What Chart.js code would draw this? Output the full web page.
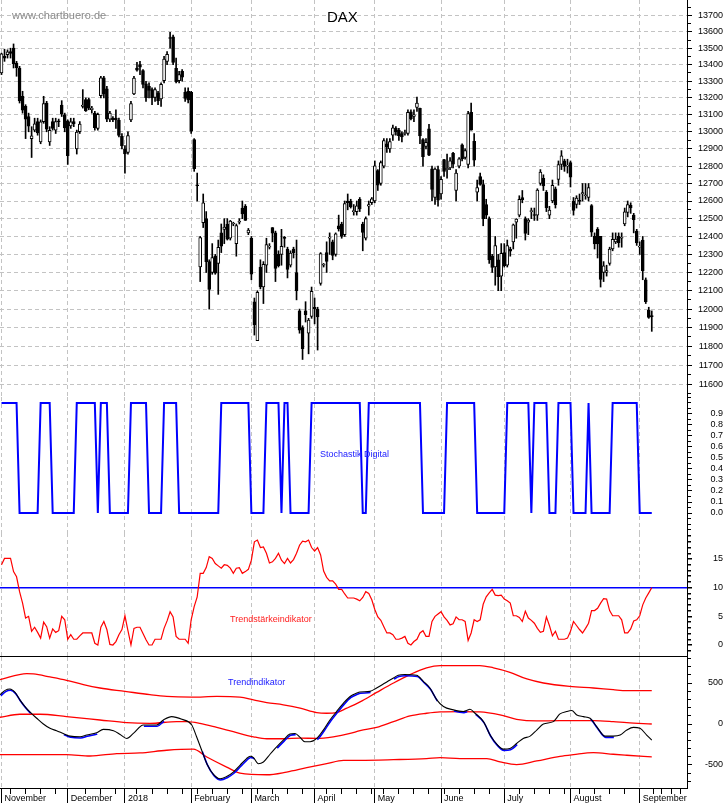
<!DOCTYPE html>
<html>
<head>
<meta charset="utf-8">
<title>DAX</title>
<script src="https://cdn.jsdelivr.net/npm/chart.js"></script>
<style>
    body { margin: 0; background: #fff; }
    #page { position: relative; width: 723px; height: 803px; overflow: hidden; font-family: "Liberation Sans", Arial, sans-serif; }
    #page canvas { position: absolute; left: 0; }
    .note { position: absolute; white-space: nowrap; line-height: 1; }
</style>
</head>
<body>
<div id="page">
    <canvas id="priceChart" width="723" height="397" style="top:0"></canvas>
    <canvas id="stochChart" width="723" height="136" style="top:397px"></canvas>
    <canvas id="strengthChart" width="723" height="124" style="top:533px"></canvas>
    <canvas id="trendChart" width="723" height="146" style="top:657px"></canvas>
    <div class="note" style="left:12px;top:10px;font-size:11px;color:#8a8a8a">www.chartbuero.de</div>
    <div class="note" style="left:327px;top:9px;font-size:15px;color:#000">DAX</div>
    <div class="note" style="left:320px;top:450px;font-size:9px;color:#2020ff">Stochastik Digital</div>
    <div class="note" style="left:230px;top:615px;font-size:9px;color:#ff2020">Trendstärkeindikator</div>
    <div class="note" style="left:228px;top:678px;font-size:9px;color:#2020ff">Trendindikator</div>
</div>
<script>
// DAX daily candles, 1 Nov 2017 - 7 Sep 2018, with three indicator panels

// Price data, one entry per trading day
const priceOpen = [
    13350,13450,13460,13480,13500,13410,13380,13210,13150,13090,
    12960,13010,13060,12940,13060,13170,12940,13060,13010,13060,
    13158,13100,13064,13034,13060,12900,13000,13150,13190,13190,
    13130,13110,13020,13214,13320,13254,13074,13080,13080,13068,
    12974,12900,12880,13070,13224,13380,13400,13364,13284,13270,
    13250,13204,13230,13194,13304,13420,13560,13570,13378,13304,
    13360,13234,13240,13234,12954,12690,12231,12478,12500,12260,
    12200,12290,12250,12420,12440,12470,12390,12470,12360,12480,
    12560,12570,12420,12390,12040,11830,12230,12120,12240,12340,
    12450,12420,12300,12300,12390,12330,12240,12330,12200,11990,
    11900,11990,11870,11960,12010,12000,12140,12240,12310,12390,
    12370,12300,12460,12470,12410,12600,12600,12540,12540,12610,
    12470,12390,12570,12590,12600,12774,12700,12800,12930,12900,
    12980,13020,13010,12990,12990,12990,13118,13090,13144,13138,
    12954,12914,13018,12784,12620,12780,12640,12838,12780,12790,
    12874,12660,12800,12924,12850,12810,13114,12944,12650,12740,
    12694,12580,12500,12290,12230,12270,12180,12310,12240,12330,
    12370,12480,12520,12620,12500,12480,12540,12520,12520,12700,
    12730,12650,12520,12600,12670,12724,12810,12830,12800,12820,
    12600,12580,12600,12640,12630,12620,12574,12400,12440,12400,
    12200,12200,12250,12330,12370,12400,12390,12470,12535,12575,
    12520,12430,12340,12380,12160,11995,11960
];
const priceHigh = [
    13470,13494,13490,13500,13526,13420,13390,13240,13160,13110,
    13030,13080,13080,13070,13210,13180,13030,13080,13080,13075,
    13184,13110,13070,13080,13080,13010,13060,13250,13200,13200,
    13150,13120,13110,13330,13330,13270,13120,13090,13130,13080,
    12990,12920,13000,13180,13330,13414,13420,13370,13300,13290,
    13260,13260,13240,13290,13450,13480,13597,13580,13440,13360,
    13370,13260,13260,13240,12960,12760,12400,12640,12540,12270,
    12360,12300,12380,12470,12500,12500,12490,12480,12470,12500,
    12600,12580,12445,12400,12060,12100,12270,12260,12390,12360,
    12450,12430,12320,12440,12400,12340,12320,12340,12380,12000,
    11910,12040,11950,12120,12060,12010,12310,12250,12370,12420,
    12380,12420,12520,12480,12600,12640,12610,12580,12600,12620,
    12480,12510,12600,12620,12830,12780,12830,12960,12960,12960,
    13040,13030,13020,13000,13010,13130,13130,13130,13205,13140,
    12960,12960,13044,12800,12790,12800,12740,12840,12870,12850,
    12880,12780,12850,12930,12900,13120,13170,12990,12720,12760,
    12720,12610,12510,12300,12400,12300,12360,12360,12380,12340,
    12470,12500,12630,12660,12510,12500,12560,12560,12670,12780,
    12750,12660,12570,12720,12680,12830,12890,12840,12840,12830,
    12620,12630,12640,12700,12700,12700,12580,12420,12450,12400,
    12260,12240,12340,12420,12420,12420,12420,12560,12600,12590,
    12530,12440,12370,12400,12170,12010,11990
];
const priceLow = [
    13340,13420,13440,13440,13380,13330,13170,13110,12960,13000,
    12850,13000,12980,12930,13050,13000,12920,13010,12990,13030,
    13090,13000,12810,13020,13030,12870,12990,13140,13120,13130,
    13110,13010,13010,13200,13200,13060,13060,13060,13020,12970,
    12900,12760,12870,13060,13220,13360,13340,13260,13180,13200,
    13160,13180,13160,13150,13290,13400,13500,13400,13290,13290,
    13300,13180,13170,12990,12770,12600,12150,12450,12200,12000,
    12190,12190,12080,12310,12360,12380,12380,12460,12290,12470,
    12500,12490,12410,12160,11860,11830,12110,12030,12200,12330,
    12370,12150,12230,12240,12340,12170,12230,12280,12050,11870,
    11730,11930,11760,11950,11920,11780,12130,12230,12200,12300,
    12270,12290,12430,12390,12400,12550,12560,12520,12520,12540,
    12320,12380,12520,12580,12590,12660,12690,12790,12880,12880,
    12950,12980,12950,12940,12980,12980,13070,13060,13120,12930,
    12800,12900,12860,12600,12580,12570,12610,12740,12730,12780,
    12790,12600,12790,12830,12840,12790,13010,12800,12600,12690,
    12460,12500,12250,12200,12130,12100,12100,12230,12230,12290,
    12330,12390,12510,12590,12380,12410,12500,12490,12490,12690,
    12660,12540,12500,12590,12560,12690,12780,12770,12760,12680,
    12520,12560,12580,12600,12610,12600,12400,12330,12280,12120,
    12150,12180,12240,12320,12360,12340,12340,12460,12510,12530,
    12420,12350,12300,12160,12030,11950,11880
];
const priceClose = [
    13465,13440,13478,13468,13406,13382,13182,13127,13074,13033,
    12976,13047,12993,13058,13167,13015,13008,13020,13060,13059,
    13104,13023,12861,13058,13048,12999,13045,13158,13123,13140,
    13140,13024,13103,13320,13224,13074,13110,13072,13070,12978,
    12918,12871,12978,13167,13319,13367,13385,13281,13202,13245,
    13200,13250,13183,13281,13434,13463,13559,13414,13298,13340,
    13324,13197,13189,13003,12785,12687,12393,12590,12260,12107,
    12282,12196,12339,12346,12452,12385,12487,12470,12461,12483,
    12527,12490,12436,12190,11914,12091,12120,12245,12355,12346,
    12418,12222,12238,12345,12389,12217,12307,12309,12100,11886,
    11787,11970,11940,12096,12002,11957,12305,12241,12261,12397,
    12294,12415,12442,12400,12586,12590,12567,12540,12572,12555,
    12422,12500,12580,12612,12802,12690,12820,12948,12912,12943,
    13023,13001,12977,12970,12996,13114,13077,13100,13169,12976,
    12855,12938,12863,12666,12783,12605,12724,12770,12787,12830,
    12811,12760,12842,12842,12890,13107,13010,12834,12677,12695,
    12500,12520,12270,12228,12349,12177,12306,12238,12349,12318,
    12465,12497,12609,12607,12417,12492,12541,12518,12662,12766,
    12686,12562,12549,12690,12579,12809,12860,12799,12806,12737,
    12546,12616,12598,12648,12634,12677,12424,12358,12358,12162,
    12237,12210,12330,12384,12385,12365,12394,12538,12580,12561,
    12494,12364,12346,12210,12040,11955,11959
];

// Stochastik Digital, one value per trading day
const stochDigital = [
    1,1,1,1,1,1,0,0,0,0, 0,0,0,1,1,1,1,0,0,0, 0,0,0,0,0,1,1,1,1,1,
    1,1,0,1,1,1,0,0,0,0, 0,0,0,1,1,1,1,1,1,0, 0,0,0,0,1,1,1,1,1,0,
    0,0,0,0,0,0,0,0,0,0, 0,0,0,1,1,1,1,1,1,1, 1,1,1,0,0,0,0,0,1,1,
    1,1,1,0,1,1,0,0,0,0, 0,0,0,1,1,1,1,1,1,1, 1,1,1,1,1,1,1,1,1,1,
    0,0,1,1,1,1,1,1,1,1, 1,1,1,1,1,1,1,1,1,1, 0,0,0,0,0,0,0,0,1,1,
    1,1,1,1,1,1,1,1,0,0, 0,0,0,0,0,0,0,0,1,1, 1,1,1,1,1,1,0,1,1,1,
    1,1,0,0,0,1,1,1,1,1, 0,0,0,0,0,1,0,0,0,0, 0,0,0,1,1,1,1,1,1,1,
    1,1,0,0,0,0,0
];

// Trendstaerkeindikator, one value per trading day
const trendStrength = [
    14,15.1,15.1,15.1,12.8,11.9,9.3,7.3,4.7,5.0,
    2.4,3.1,2.2,1.2,4.0,3.2,1.2,2.8,2.2,2.5,
    5.0,4.4,1.0,1.8,1.0,1.0,1.6,2.1,2.1,2.1,
    2.1,0.3,0,3.1,4.1,2.7,0.1,0,0.6,1.8,
    2.7,5.1,2.5,0,2.9,3.1,3.1,2.0,0.9,0,
    0,1.0,1.0,1.0,2.9,4.2,5.8,4.9,1.5,1.0,
    1.0,1.0,0.3,4.4,6.7,8.4,12.5,12.5,13.5,15.4,
    15.1,14.2,13.8,13.4,14.0,13.9,13.4,12.5,13.4,13.5,
    12.5,12.8,13.2,14.8,18.0,18.3,17.0,17.1,16.0,14.3,
    14.5,15.1,16.0,14.8,14.2,15.1,14.3,14.9,16.0,17.4,
    18.1,18.0,18.3,17.0,16.4,17.0,15.7,12.9,11.8,11.2,
    11.2,10.6,9.7,9.7,8.9,8.2,8.2,8.2,8.0,7.7,
    8.3,9.3,9.0,7.9,6.2,4.9,4.3,3.2,2.1,2.1,
    1.8,1.0,1.0,1.2,1.5,0.3,0,0.6,1.0,2.1,
    2.5,1.5,1.5,4.1,5.0,5.4,5.8,4.9,4.3,3.5,
    3.7,4.9,4.4,4.4,4.1,0.8,2.1,4.4,4.1,4.4,
    7.1,8.4,9.1,9.7,8.7,8.6,8.7,8.0,7.7,7.3,
    5.1,5.1,4.8,4.1,5.9,4.7,4.3,3.8,2.9,2.2,
    2.4,4.9,3.4,1.6,2.4,1.0,1.0,1.0,1.2,2.4,
    4.1,3.4,2.7,2.1,2.9,3.8,6.0,6.0,6.4,7.3,
    8.1,8.0,6.0,5.1,5.1,5.1,4.4,2.1,2.1,2.8,
    4.2,4.4,5.1,7.0,8.2,9.1,10.0
];
const strengthLevel = 10;

// Trendindikator: points where the lines bend, x in trading days from the left edge
const trendX = [0,1.7,3.3,5,6.6,8.3,10,12.2,14.4,16.6,18.8,21,23.3,26.6,28.8,32.1,34.3,37.7,39.9,42.1,
    44.3,47.6,52,54.3,57,60.4,63.7,65.3,67,68.7,70.9,73.1,75.3,77.5,79.7,81.9,83.1,84.2,85.8,87.5,
    89.7,91.9,94.1,96.3,98,99.7,101.3,103,105.2,107.4,109.6,111.8,114.1,116.3,118.5,119.6,122.9,125.1,127.9,130.7,
    132.3,134.5,138.4,140.6,142.8,145.1,147.3,150.6,153.9,155,156.1,157.8,160.6,162.8,165,167.2,169.4,171.6,173.8,176.1,
    178.3,180.5,183.8,186,188.2,189.9,191.6,193.8,196,198.2,201,203.7,206,208.2,210.4,212.6,214.8,216.5];
const trendLine = [357,410,426,385,295,213,144,70,0,-53,-82,-115,-148,-156,-135,-107,-66,-82,-127,-176,
    -115,-12,-12,49,90,57,-12,-156,-320,-484,-615,-668,-640,-586,-504,-422,-394,-410,-484,-463,
    -369,-279,-197,-123,-115,-164,-217,-217,-176,-74,49,152,254,336,377,390,398,439,500,562,
    594,603,594,521,439,295,213,172,152,165,180,131,29,-135,-246,-307,-299,-238,-176,-148,
    -74,0,29,123,152,164,111,90,70,-33,-148,-148,-135,-74,-41,-53,-135,-197];
const blueStretches = [[0, 11.1], [21, 32.1], [47.6, 54.3], [57, 58.7], [66.4, 84.2], [90.8, 98.6],
    [104, 124], [130.7, 145.1], [150.6, 155], [157.2, 171.6], [196, 203.7]];

const upperX = [0,8.9,11.1,16.6,22.1,27.7,33.2,41.5,49.8,55.4,63.7,72,79.7,84.2,88.6,94.1,99.7,105.2,108.5,111.8,
    115.2,119.6,125.1,130.7,136.2,141.7,146.2,152.8,159.4,163.9,169.4,175,180.5,189.3,197.1,203.7,208.2,216.5];
const upperBand = [541,615,611,574,533,480,439,398,357,336,328,336,328,295,262,234,193,139,131,139,
    193,270,385,500,603,685,713,713,713,685,631,549,500,459,439,418,406,406];
const middleX = [0,6.6,13.3,22.1,33.2,42.1,49.8,58.7,62,66.4,72,77.5,84.2,88.6,94.1,99.7,105.2,110.7,116.3,119.6,
    125.1,130.7,136.2,141.7,146.2,152.8,159.4,166.1,171.6,178.3,186,197.1,203.7,208.2,216.5];
const middleBand = [82,119,119,90,49,16,8,29,29,8,-41,-94,-156,-180,-180,-172,-176,-156,-115,-80,
    -41,29,98,131,148,152,148,111,57,37,41,41,29,16,0];
const lowerX = [0,22.1,29.9,38.8,46.5,55.4,64.2,68.7,75.3,79.7,88.6,95.2,101.9,108.5,114.1,119.6,130.7,141.7,146.2,152.8,
    161.7,166.1,171.6,178.3,186,190.5,197.1,203.7,208.2,216.5];
const lowerBand = [-373,-373,-390,-361,-353,-320,-307,-402,-525,-599,-619,-586,-533,-484,-443,-443,-435,-422,-410,-422,
    -422,-463,-496,-451,-394,-373,-349,-369,-381,-402];

// Time axis: first trading day of each month, Mondays, and tick marks after the last candle
const monthStarts = [0, 22, 41, 63, 83, 104, 124, 146, 167, 189, 212];
const monthNames = ['November', 'December', '2018', 'February', 'March', 'April', 'May', 'June', 'July', 'August', 'September'];
const weekStarts = [3,8,13,18,28,33,38,45,50,55,60,65,70,75,80,85,90,95,100,108,113,118,123,127,132,137,142,147,152,157,162,172,177,182,187,192,197,202,207];
const futureTicks = [217, 219.8, 223.1, 225.9];

// Value axis labels
const stochLabels = ['0.0','0.1','0.2','0.3','0.4','0.5','0.6','0.7','0.8','0.9'];
const strengthLabels = ['0', '5', '10', '15'];
const trendLabels = ['-500', '0', '500'];

// ---------------------------------------------------------------------------
const DAY_PX = 3.0105;
const PLOT_RIGHT = 687;
const AXIS_WIDTH = 723 - PLOT_RIGHT;
const X_MAX = PLOT_RIGHT / DAY_PX;
const GRID = '#c3c3c3';
const DASH = [4, 3];
const SHORT_TICK = [3, 20];   // minor tick marks: only the first pixels of the tick are drawn

Chart.defaults.font.family = '"Liberation Sans", Arial, sans-serif';
Chart.defaults.font.size = 9;
Chart.defaults.color = '#000';
Chart.defaults.animation = false;
Chart.defaults.responsive = false;
Chart.defaults.plugins.legend.display = false;
Chart.defaults.plugins.tooltip.enabled = false;
Chart.defaults.elements.point.radius = 0;

const monthTicks = monthStarts.map(d => d + 0.5);
const monthByTick = new Map(monthTicks.map((v, k) => [v, monthNames[k]]));

function daily(values) {
    return values.map((v, i) => ({ x: i + 0.5, y: v }));
}

function zip(xs, ys) {
    return xs.map((x, k) => ({ x: x, y: ys[k] }));
}

function range(from, to, step) {
    const out = [];
    for (let v = from; v <= to; v += step) out.push(v);
    return out;
}

function fixYAxis(scale) {
    scale.width = AXIS_WIDTH;
    scale.paddingTop = 0;
    scale.paddingBottom = 0;
}

function isMonth(ctx) {
    return !!ctx.tick && monthByTick.has(ctx.tick.value);
}

function timeAxis(height, withLabels, borderShown) {
    let values = monthTicks;
    if (withLabels) {
        values = monthTicks.concat(weekStarts.map(d => d + 0.5), futureTicks).sort((a, b) => a - b);
    }
    return {
        type: 'linear',
        position: 'bottom',
        min: 0,
        max: X_MAX,
        offset: false,
        afterBuildTicks: scale => { scale.ticks = values.map(v => ({ value: v })); },
        afterFit: scale => { scale.height = height; scale.paddingLeft = 0; scale.paddingRight = 0; },
        grid: {
            offset: false,
            color: ctx => isMonth(ctx) ? GRID : 'transparent',
            drawTicks: withLabels,
            tickLength: 15,
            tickColor: '#000',
            tickBorderDash: ctx => isMonth(ctx) ? [] : [5, 20]
        },
        border: { display: borderShown, color: '#000', dash: DASH },
        ticks: {
            display: withLabels,
            autoSkip: false,
            minRotation: 0,
            maxRotation: 0,
            align: 'start',
            labelOffset: 3,
            padding: -10,
            callback: v => monthByTick.get(v) || ''
        }
    };
}

function valueAxis(cfg) {
    return {
        type: cfg.type || 'linear',
        position: 'right',
        min: cfg.min,
        max: cfg.max,
        afterBuildTicks: scale => { scale.ticks = cfg.ticks.map(v => ({ value: v })); },
        afterFit: fixYAxis,
        grid: {
            color: cfg.gridColor,
            lineWidth: cfg.gridWidth || 1,
            tickColor: '#000',
            tickLength: 5,
            tickBorderDash: ctx => (ctx.tick && cfg.major(ctx.tick.value)) ? [] : SHORT_TICK
        },
        border: { color: '#000', dash: cfg.dash || [] },
        ticks: { autoSkip: false, crossAlign: 'far', padding: cfg.padding, callback: cfg.label }
    };
}

// Price panel (candles)
const bodyData = priceOpen.map((o, i) => ({ x: i + 0.5, y: [o, priceClose[i]] }));
const wickData = priceLow.map((l, i) => ({ x: i + 0.5, y: [l, priceHigh[i]] }));
const bodyFill = priceClose.map((c, i) => c >= priceOpen[i] ? '#ffffff' : '#000000');

new Chart(document.getElementById('priceChart'), {
    type: 'bar',
    data: {
        datasets: [{
            data: bodyData,
            backgroundColor: bodyFill,
            borderColor: '#000',
            borderWidth: 1,
            borderSkipped: false,
            barThickness: 3,
            minBarLength: 1,
            grouped: false
        }, {
            data: wickData,
            backgroundColor: '#000',
            borderWidth: 0,
            barThickness: 1,
            grouped: false
        }]
    },
    options: {
        devicePixelRatio: 1,
        scales: {
            x: timeAxis(0, false, false),
            y: valueAxis({
                type: 'logarithmic',
                min: 11533,
                max: 13797,
                ticks: range(11550, 13750, 50),
                major: v => v % 100 === 0,
                gridColor: ctx => (ctx.tick && ctx.tick.value % 100 === 0) ? GRID : 'transparent',
                dash: DASH,
                padding: 4,
                label: v => v % 100 === 0 ? String(v) : ''
            })
        }
    }
});

// Stochastik Digital
function stochLabel(v) {
    const s = v.toFixed(2);
    return (s.endsWith('0') && stochLabels.includes(s.slice(0, 3))) ? s.slice(0, 3) : '';
}

new Chart(document.getElementById('stochChart'), {
    type: 'line',
    data: {
        datasets: [{ data: daily(stochDigital), borderColor: '#0000ff', borderWidth: 2, tension: 0 }]
    },
    options: {
        devicePixelRatio: 1,
        scales: {
            x: timeAxis(0, false, false),
            y: valueAxis({
                min: -0.1818,
                max: 1.0545,
                ticks: range(-3, 21, 1).map(k => k / 20),
                major: v => stochLabel(v) !== '',
                gridColor: 'transparent',
                padding: 16,
                label: stochLabel
            })
        }
    }
});

// Trendstaerkeindikator
new Chart(document.getElementById('strengthChart'), {
    type: 'line',
    data: {
        datasets: [{ data: daily(trendStrength), borderColor: '#ff0000', borderWidth: 1.2, tension: 0 }]
    },
    options: {
        devicePixelRatio: 1,
        scales: {
            x: timeAxis(1, false, true),
            y: valueAxis({
                min: -1.919,
                max: 19.535,
                ticks: range(-1, 19, 1),
                major: v => strengthLabels.includes(String(v)),
                gridColor: ctx => (ctx.tick && ctx.tick.value === strengthLevel) ? '#0000ff' : 'transparent',
                gridWidth: 1.5,
                padding: 19,
                label: v => strengthLabels.includes(String(v)) ? String(v) : ''
            })
        }
    }
});

// Trendindikator: the blue companion line sits one pixel below the black one
function inBlue(x0, x1) {
    return blueStretches.some(s => x0 >= s[0] - 0.01 && x1 <= s[1] + 0.01);
}

const blueOffset = {
    id: 'blueOffset',
    beforeDatasetDraw(chart, args) {
        if (args.index === 1) {
            chart.ctx.save();
            chart.ctx.translate(0.6, 1.2);
        }
    },
    afterDatasetDraw(chart, args) {
        if (args.index === 1) chart.ctx.restore();
    }
};

new Chart(document.getElementById('trendChart'), {
    type: 'line',
    data: {
        datasets: [{
            data: zip(trendX, trendLine),
            borderColor: '#000',
            borderWidth: 1.1,
            cubicInterpolationMode: 'monotone'
        }, {
            data: zip(trendX, trendLine),
            borderColor: '#0000ff',
            borderWidth: 1.6,
            cubicInterpolationMode: 'monotone',
            segment: { borderColor: ctx => inBlue(ctx.p0.parsed.x, ctx.p1.parsed.x) ? '#0000ff' : 'transparent' }
        }, {
            data: zip(upperX, upperBand),
            borderColor: '#ff0000',
            borderWidth: 1.3,
            cubicInterpolationMode: 'monotone'
        }, {
            data: zip(middleX, middleBand),
            borderColor: '#ff0000',
            borderWidth: 1.3,
            cubicInterpolationMode: 'monotone'
        }, {
            data: zip(lowerX, lowerBand),
            borderColor: '#ff0000',
            borderWidth: 1.3,
            cubicInterpolationMode: 'monotone'
        }]
    },
    options: {
        devicePixelRatio: 1,
        scales: {
            x: timeAxis(15, true, true),
            y: valueAxis({
                min: -780.5,
                max: 817.1,
                ticks: range(-700, 800, 100),
                major: v => trendLabels.includes(String(v)),
                gridColor: 'transparent',
                padding: 11,
                label: v => trendLabels.includes(String(v)) ? String(v) : ''
            })
        }
    },
    plugins: [blueOffset]
});
</script>
</body>
</html>
